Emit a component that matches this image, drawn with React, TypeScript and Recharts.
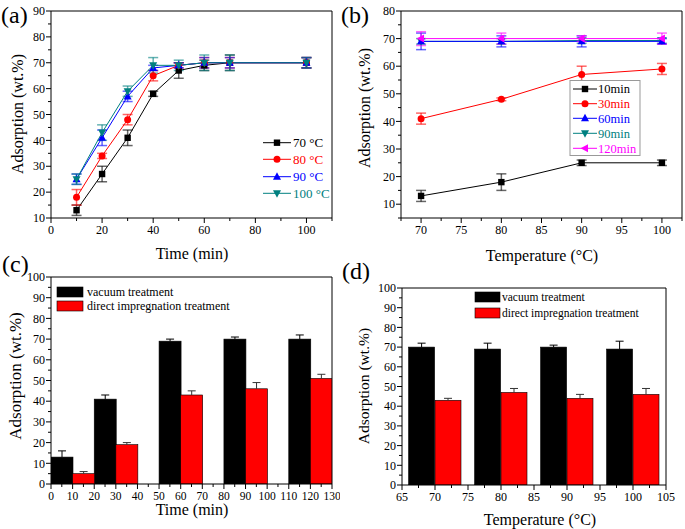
import React from 'react';
import { LineChart, Line, BarChart, Bar, XAxis, YAxis, ErrorBar } from 'recharts';

const FONT = '"Liberation Serif", "Times New Roman", serif';

// ---------- Panel (a) ----------
const timeA = [10, 20, 30, 40, 50, 60, 70, 100];
const a70 = [13, 27, 41, 58, 67, 69, 70, 70];
const a70Err = [2, 3, 3, 1, 3, 2, 3, 2];
const a80 = [18, 34, 48, 65, 69, 70, 70, 70];
const a80Err = [3, 1, 2, 2, 1, 2, 2, 2];
const a90 = [25, 41, 57, 68, 69, 70, 70, 70];
const a90Err = [2, 3, 2, 1, 1, 2, 2, 2];
const a100 = [25, 43, 59, 69, 69, 70, 70, 70];
const a100Err = [2, 3, 2, 3, 2, 3, 3, 2];
const namesA = ['70 °C', '80 °C', '90 °C', '100 °C'];

// ---------- Panel (b) ----------
const tempB = [70, 80, 90, 100];
const b10 = [13, 18, 25, 25];
const b10Err = [2, 3, 1, 1];
const b30 = [41, 48, 57, 59];
const b30Err = [2, 0.5, 3, 2];
const b60 = [69, 69, 69, 69];
const b60Err = [3, 2, 2, 1];
const b90 = [69, 69, 69.3, 69.3];
const b90Err = [1, 1, 1, 1];
const b120 = [70, 70, 70, 70];
const b120Err = [2.5, 2, 1, 2];
const namesB = ['10min', '30min', '60min', '90min', '120min'];

// ---------- Panel (c) ----------
const timeVacC = [5, 25, 55, 85, 115];
const vacC = [13, 41, 69, 70, 70];
const vacCErr = [3, 2, 1, 1, 2];
const timeDirC = [15, 35, 65, 95, 125];
const dirC = [5, 19, 43, 46, 51];
const dirCErr = [1, 1, 2, 3, 2];

// ---------- Panel (d) ----------
const tempVacD = [68, 78, 88, 98];
const vacD = [70, 69, 70, 69];
const vacDErr = [2, 3, 1, 4];
const tempDirD = [72, 82, 92, 102];
const dirD = [43, 47, 44, 46];
const dirDErr = [1, 2, 2, 3];
const namesBar = ['vacuum treatment', 'direct impregnation treatment'];

// ---------- ticks ----------
const majAx = [0, 20, 40, 60, 80, 100];
const majAy = [10, 20, 30, 40, 50, 60, 70, 80, 90];
const majBx = [70, 75, 80, 85, 90, 95, 100];
const majBy = [10, 20, 30, 40, 50, 60, 70, 80];
const majCx = [0, 10, 20, 30, 40, 50, 60, 70, 80, 90, 100, 110, 120, 130];
const majCy = [0, 10, 20, 30, 40, 50, 60, 70, 80, 90, 100];
const majDx = [65, 70, 75, 80, 85, 90, 95, 100, 105];

const withMinor = (majors: number[], lo: number, hi: number) => {
  const step = majors[1] - majors[0];
  const out: number[] = [];
  for (let v = majors[0] - step; v <= majors[majors.length - 1] + step + 1e-9; v += step / 2) {
    if (v >= lo - 1e-9 && v <= hi + 1e-9) out.push(Math.round(v * 1000) / 1000);
  }
  return out;
};

const COLORS = { black: '#000000', red: '#ff0000', blue: '#0000ff', teal: '#008080', magenta: '#ff00ff' };

const isMajor = (majors: number[], v: number) => majors.some((m) => Math.abs(m - v) < 1e-6);

const makeBottomTick = (majors: number[], fs: number) => (props: any) => {
  const { x, y, payload } = props;
  const maj = isMajor(majors, payload.value);
  const len = maj ? 5 : 3;
  return (
    <g>
      <line x1={x} y1={y} x2={x} y2={y + len} stroke="#000" strokeWidth={1} />
      {maj && (
        <text x={x} y={y + len + fs * 0.95} textAnchor="middle" fontFamily={FONT} fontSize={fs} fill="#000">
          {payload.value}
        </text>
      )}
    </g>
  );
};

const makeLeftTick = (majors: number[], fs: number) => (props: any) => {
  const { x, y, payload } = props;
  const maj = isMajor(majors, payload.value);
  const len = maj ? 5 : 3;
  return (
    <g>
      <line x1={x} y1={y} x2={x - len} y2={y} stroke="#000" strokeWidth={1} />
      {maj && (
        <text x={x - len - 1} y={y + fs * 0.35} textAnchor="end" fontFamily={FONT} fontSize={fs} fill="#000">
          {payload.value}
        </text>
      )}
    </g>
  );
};

type Shape = 'square' | 'circle' | 'up' | 'down' | 'left';

const Marker = ({ shape, cx, cy, color }: { shape: Shape; cx: number; cy: number; color: string }) => {
  if (cx == null || cy == null) return null;
  switch (shape) {
    case 'square':
      return <rect x={cx - 3.2} y={cy - 3.2} width={6.4} height={6.4} fill={color} />;
    case 'circle':
      return <circle cx={cx} cy={cy} r={3.5} fill={color} />;
    case 'up':
      return <polygon points={`${cx},${cy - 4.5} ${cx - 4},${cy + 3} ${cx + 4},${cy + 3}`} fill={color} />;
    case 'down':
      return <polygon points={`${cx},${cy + 4.5} ${cx - 4},${cy - 3} ${cx + 4},${cy - 3}`} fill={color} />;
    case 'left':
      return <polygon points={`${cx - 4.5},${cy} ${cx + 3},${cy - 4} ${cx + 3},${cy + 4}`} fill={color} />;
  }
  return null;
};

const dotFn = (shape: Shape, color: string) => (p: any) => (
  <Marker key={`d-${p.index}`} shape={shape} cx={p.cx} cy={p.cy} color={color} />
);

// ---------- tables ----------
const dataA = timeA.map((t, i) => ({
  x: t,
  s70: a70[i], e70: a70Err[i],
  s80: a80[i], e80: a80Err[i],
  s90: a90[i], e90: a90Err[i],
  s100: a100[i], e100: a100Err[i],
}));

const dataB = tempB.map((t, i) => ({
  x: t,
  s10: b10[i], e10: b10Err[i],
  s30: b30[i], e30: b30Err[i],
  s60: b60[i], e60: b60Err[i],
  s90: b90[i], e90: b90Err[i],
  s120: b120[i], e120: b120Err[i],
}));

const buildBars = (xv: number[], v: number[], ve: number[], xd: number[], d: number[], de: number[]) => {
  const rows: any[] = [];
  xv.forEach((x, i) => rows.push({ x, vac: v[i], vacErr: ve[i], dir: null, dirErr: null }));
  xd.forEach((x, i) => rows.push({ x, vac: null, vacErr: null, dir: d[i], dirErr: de[i] }));
  return rows.sort((p, q) => p.x - q.x);
};
const dataC = buildBars(timeVacC, vacC, vacCErr, timeDirC, dirC, dirCErr);
const dataD = buildBars(tempVacD, vacD, vacDErr, tempDirD, dirD, dirDErr);

const makeBarShape = (valKey: string, errKey: string, fill: string, errColor: string) => (props: any) => {
  const { x, y, width, height, payload } = props;
  const v = payload ? payload[valKey] : null;
  if (v == null || !height || height <= 0) return <g />;
  const e = payload[errKey] || 0;
  const ppu = height / v;
  const cx = x + width / 2;
  const top = y - e * ppu;
  return (
    <g>
      <rect x={x} y={y} width={width} height={height} fill={fill} stroke="#000" strokeWidth={0.6} />
      {e > 0 && (
        <g>
          <line x1={cx} y1={y} x2={cx} y2={top} stroke={errColor} strokeWidth={1} />
          <line x1={cx - 4} y1={top} x2={cx + 4} y2={top} stroke={errColor} strokeWidth={1} />
        </g>
      )}
    </g>
  );
};

const axisLine = { stroke: '#000', strokeWidth: 1 };

const PanelA = () => (
  <LineChart width={340} height={270} data={dataA} margin={{ top: 10, right: 7, bottom: 51, left: 50 }}>
    <XAxis type="number" dataKey="x" domain={[0, 110]} ticks={withMinor(majAx, 0, 110)} interval={0}
      tick={makeBottomTick(majAx, 12)} tickLine={false} tickSize={0} tickMargin={0} height={1} axisLine={axisLine} allowDataOverflow />
    <YAxis type="number" domain={[10, 90]} ticks={withMinor(majAy, 10, 90)} interval={0}
      tick={makeLeftTick(majAy, 12)} tickLine={false} tickSize={0} tickMargin={0} width={1} axisLine={axisLine} allowDataOverflow />
    <XAxis xAxisId="top" orientation="top" type="number" dataKey="x" domain={[0, 110]} tick={false} tickLine={false} height={1} axisLine={axisLine} />
    <YAxis yAxisId="right" orientation="right" type="number" domain={[10, 90]} tick={false} tickLine={false} width={1} axisLine={axisLine} />
    <Line dataKey="s70" stroke={COLORS.black} strokeWidth={1} dot={dotFn('square', COLORS.black)} isAnimationActive={false}>
      <ErrorBar dataKey="e70" direction="y" width={5} stroke={COLORS.black} strokeOpacity={0.6} />
    </Line>
    <Line dataKey="s80" stroke={COLORS.red} strokeWidth={1} dot={dotFn('circle', COLORS.red)} isAnimationActive={false}>
      <ErrorBar dataKey="e80" direction="y" width={5} stroke={COLORS.red} strokeOpacity={0.6} />
    </Line>
    <Line dataKey="s90" stroke={COLORS.blue} strokeWidth={1} dot={dotFn('up', COLORS.blue)} isAnimationActive={false}>
      <ErrorBar dataKey="e90" direction="y" width={5} stroke={COLORS.blue} strokeOpacity={0.6} />
    </Line>
    <Line dataKey="s100" stroke={COLORS.teal} strokeWidth={1} dot={dotFn('down', COLORS.teal)} isAnimationActive={false}>
      <ErrorBar dataKey="e100" direction="y" width={5} stroke={COLORS.teal} strokeOpacity={0.6} />
    </Line>
  </LineChart>
);

const PanelB = () => (
  <LineChart width={345} height={270} data={dataB} margin={{ top: 10, right: 2, bottom: 51, left: 60 }}>
    <XAxis type="number" dataKey="x" domain={[67.5, 102.5]} ticks={withMinor(majBx, 67.5, 102.5)} interval={0}
      tick={makeBottomTick(majBx, 12)} tickLine={false} tickSize={0} tickMargin={0} height={1} axisLine={axisLine} allowDataOverflow />
    <YAxis type="number" domain={[5, 80]} ticks={withMinor(majBy, 5, 80)} interval={0}
      tick={makeLeftTick(majBy, 12)} tickLine={false} tickSize={0} tickMargin={0} width={1} axisLine={axisLine} allowDataOverflow />
    <XAxis xAxisId="top" orientation="top" type="number" dataKey="x" domain={[67.5, 102.5]} tick={false} tickLine={false} height={1} axisLine={axisLine} />
    <YAxis yAxisId="right" orientation="right" type="number" domain={[5, 80]} tick={false} tickLine={false} width={1} axisLine={axisLine} />
    <Line dataKey="s10" stroke={COLORS.black} strokeWidth={1} dot={dotFn('square', COLORS.black)} isAnimationActive={false}>
      <ErrorBar dataKey="e10" direction="y" width={5} stroke={COLORS.black} strokeOpacity={0.6} />
    </Line>
    <Line dataKey="s30" stroke={COLORS.red} strokeWidth={1} dot={dotFn('circle', COLORS.red)} isAnimationActive={false}>
      <ErrorBar dataKey="e30" direction="y" width={5} stroke={COLORS.red} strokeOpacity={0.6} />
    </Line>
    <Line dataKey="s90" stroke={COLORS.teal} strokeWidth={1} dot={dotFn('down', COLORS.teal)} isAnimationActive={false}>
      <ErrorBar dataKey="e90" direction="y" width={5} stroke={COLORS.teal} strokeOpacity={0.6} />
    </Line>
    <Line dataKey="s60" stroke={COLORS.blue} strokeWidth={1} dot={dotFn('up', COLORS.blue)} isAnimationActive={false}>
      <ErrorBar dataKey="e60" direction="y" width={5} stroke={COLORS.blue} strokeOpacity={0.6} />
    </Line>
    <Line dataKey="s120" stroke={COLORS.magenta} strokeWidth={1} dot={dotFn('left', COLORS.magenta)} isAnimationActive={false}>
      <ErrorBar dataKey="e120" direction="y" width={5} stroke={COLORS.magenta} strokeOpacity={0.6} />
    </Line>
  </LineChart>
);

const BarPanel = ({ data, width, margin, xd, majX, tickFs }: any) => (
  <BarChart width={width} height={259} data={data} margin={margin} barCategoryGap={0} barGap={0}>
    <XAxis type="number" dataKey="x" domain={xd} ticks={withMinor(majX, xd[0], xd[1])} interval={0}
      tick={makeBottomTick(majX, tickFs)} tickLine={false} tickSize={0} tickMargin={0} height={1} axisLine={axisLine} allowDataOverflow />
    <YAxis type="number" domain={[0, 100]} ticks={withMinor(majCy, 0, 100)} interval={0}
      tick={makeLeftTick(majCy, 12)} tickLine={false} tickSize={0} tickMargin={0} width={1} axisLine={axisLine} allowDataOverflow />
    <XAxis xAxisId="top" orientation="top" type="number" dataKey="x" domain={xd} tick={false} tickLine={false} height={1} axisLine={axisLine} />
    <YAxis yAxisId="right" orientation="right" type="number" domain={[0, 100]} tick={false} tickLine={false} width={1} axisLine={axisLine} />
    <Bar dataKey="vac" stackId="s" fill="#000" isAnimationActive={false} shape={makeBarShape('vac', 'vacErr', '#000000', '#000000')} />
    <Bar dataKey="dir" stackId="s" fill="#ff0000" isAnimationActive={false} shape={makeBarShape('dir', 'dirErr', '#ff0000', '#333333')} />
  </BarChart>
);

const txt = (x: number, y: number, s: any, fs: number, extra: any = {}) => (
  <text x={x} y={y} fontFamily={FONT} fontSize={fs} fill="#000" {...extra}>{s}</text>
);

const shapesA: Shape[] = ['square', 'circle', 'up', 'down'];
const colorsA = [COLORS.black, COLORS.red, COLORS.blue, COLORS.teal];
const rowsA = [142.7, 159.3, 176.7, 193.3];
const shapesB: Shape[] = ['square', 'circle', 'up', 'down', 'left'];
const colorsB = [COLORS.black, COLORS.red, COLORS.blue, COLORS.teal, COLORS.magenta];
const rowsB = [89, 103.7, 118.3, 133.3, 148.3];

const Overlay = () => (
  <svg width={685} height={529} style={{ position: 'absolute', left: 0, top: 0, pointerEvents: 'none' }}>
    {txt(1, 23, '(a)', 24)}
    {txt(341, 23, '(b)', 24)}
    {txt(2, 272, '(c)', 24)}
    {txt(342, 279, '(d)', 24)}
    {txt(17, 114, 'Adsorption (wt.%)', 16, { textAnchor: 'middle', transform: 'rotate(-90 17 114)', dy: '0.35em' })}
    {txt(192, 259, 'Time (min)', 16, { textAnchor: 'middle' })}
    {txt(364, 108, 'Adsorption (wt.%)', 16, { textAnchor: 'middle', transform: 'rotate(-90 364 108)', dy: '0.35em' })}
    {txt(542, 261, 'Temperature (°C)', 16, { textAnchor: 'middle' })}
    {txt(15, 376, 'Adsorption (wt.%)', 17, { textAnchor: 'middle', transform: 'rotate(-90 15 376)', dy: '0.35em' })}
    {txt(192, 515, 'Time (min)', 16, { textAnchor: 'middle' })}
    {txt(364, 386, 'Adsorption (wt.%)', 15.5, { textAnchor: 'middle', transform: 'rotate(-90 364 386)', dy: '0.35em' })}
    {txt(540, 525, 'Temperature (°C)', 16, { textAnchor: 'middle' })}
    {namesA.map((n, i) => (
      <g key={n}>
        <line x1={263} x2={291} y1={rowsA[i]} y2={rowsA[i]} stroke={colorsA[i]} strokeWidth={1} />
        <Marker shape={shapesA[i]} cx={277} cy={rowsA[i]} color={colorsA[i]} />
        {txt(293, rowsA[i] + 4.5, n, 13, { fill: colorsA[i] })}
      </g>
    ))}
    <rect x={570} y={80.5} width={70} height={75} fill="#fff" stroke="#999" strokeWidth={1} />
    {namesB.map((n, i) => (
      <g key={n}>
        <line x1={573} x2={597} y1={rowsB[i]} y2={rowsB[i]} stroke={colorsB[i]} strokeWidth={1} />
        <Marker shape={shapesB[i]} cx={585} cy={rowsB[i]} color={colorsB[i]} />
        {txt(598, rowsB[i] + 4.3, n, 12.5, { fill: colorsB[i] })}
      </g>
    ))}
    <rect x={57} y={287} width={26} height={10} fill="#000" stroke="#000" strokeWidth={0.6} />
    <rect x={57} y={301} width={26} height={10} fill="#ff0000" stroke="#000" strokeWidth={0.6} />
    {txt(87, 296, namesBar[0], 12)}
    {txt(87, 310, namesBar[1], 12)}
    <rect x={475} y={292} width={25} height={10} fill="#000" stroke="#000" strokeWidth={0.6} />
    <rect x={475} y={308} width={25} height={10} fill="#ff0000" stroke="#000" strokeWidth={0.6} />
    {txt(502, 301, namesBar[0], 11.5)}
    {txt(502, 317, namesBar[1], 11.5)}
  </svg>
);

export default function App() {
  return (
    <div style={{ position: 'absolute', left: 0, top: 0, width: 685, height: 529, background: '#fff', overflow: 'hidden' }}>
      <div style={{ position: 'absolute', left: 0, top: 0 }}><PanelA /></div>
      <div style={{ position: 'absolute', left: 340, top: 0 }}><PanelB /></div>
      <div style={{ position: 'absolute', left: 0, top: 270 }}>
        <BarPanel data={dataC} width={340} margin={{ top: 6, right: 7, bottom: 44, left: 50 }} xd={[0, 130]} majX={majCx} tickFs={11.5} />
      </div>
      <div style={{ position: 'absolute', left: 340, top: 270 }}>
        <BarPanel data={dataD} width={345} margin={{ top: 17, right: 18, bottom: 43, left: 61 }} xd={[65, 105]} majX={majDx} tickFs={12} />
      </div>
      <Overlay />
    </div>
  );
}
